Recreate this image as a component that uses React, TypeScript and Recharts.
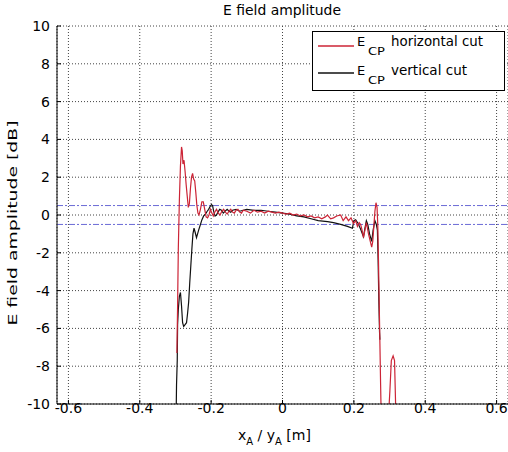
import { LineChart, Line, XAxis, YAxis, CartesianGrid, ReferenceLine } from "recharts";

// horizontal cut (red)
const hCutX = [
  -0.296, -0.294, -0.292, -0.289, -0.286, -0.283, -0.281, -0.279, -0.276, -0.273,
  -0.27, -0.267, -0.264, -0.261, -0.258, -0.255, -0.252, -0.249, -0.246, -0.243,
  -0.24, -0.237, -0.234, -0.23, -0.226, -0.222, -0.218, -0.214, -0.21, -0.206,
  -0.202, -0.198, -0.194, -0.19, -0.185, -0.18, -0.175, -0.17, -0.165, -0.16,
  -0.155, -0.15, -0.145, -0.14, -0.135, -0.13, -0.125, -0.12, -0.115, -0.11,
  -0.1, -0.09, -0.08, -0.07, -0.06, -0.05, -0.04, -0.03, -0.02, -0.01,
  0, 0.01, 0.02, 0.03, 0.04, 0.05, 0.06, 0.07, 0.08, 0.09,
  0.1, 0.11, 0.12, 0.126, 0.135, 0.143, 0.152, 0.163, 0.17, 0.178,
  0.185, 0.192, 0.199, 0.205, 0.21, 0.215, 0.219, 0.223, 0.227, 0.231,
  0.235, 0.238, 0.241, 0.246, 0.25, 0.253, 0.256, 0.259, 0.262, 0.265,
  0.267, 0.269, 0.27, 0.273, 0.275, 0.277, 0.285, 0.296, 0.301, 0.305,
  0.31, 0.314, 0.317, 0.319,
];
const hCutY = [
  -7.3, -4.8, -1.8, 0.8, 2.6, 3.6, 3.4, 2.7, 2.9, 2.3,
  1.6, 1.0, 0.4, 0.6, 1.4, 2.0, 2.2, 1.9, 1.8, 1.2,
  0.5, 0.1, 0.0, 0.3, 0.7, 0.7, 0.3, -0.1, -0.15, 0.0,
  0.3, 0.1, -0.05, 0.15, 0.3, 0.1, 0.0, 0.2, 0.3, 0.15,
  0.05, 0.2, 0.3, 0.15, 0.1, 0.25, 0.3, 0.15, 0.1, 0.25,
  0.2, 0.1, 0.25, 0.15, 0.2, 0.1, 0.2, 0.15, 0.1, 0.15,
  0.1, 0.05, 0.1, 0.0, 0.05, -0.05, 0.0, -0.1, -0.05, -0.15,
  -0.1, -0.2, -0.1, 0.0, -0.2, -0.15, -0.05, 0.0, -0.3, -0.1,
  -0.3, -0.15, -0.45, -0.3, -0.6, -0.4, -0.5, -0.8, -1.2, -0.8,
  -0.4, -0.7, -1.0, -1.4, -1.7, -1.4, -0.6, 0.2, 0.65, 0.4,
  -0.5, -2.4, -3.5, -6.8, -9.0, -11, -14, -11, -9.3, -7.7,
  -7.45, -7.7, -10, -11,
];

// vertical cut (black)
const vCutX = [
  -0.298, -0.297, -0.295, -0.294, -0.292, -0.289, -0.286, -0.283, -0.28, -0.277,
  -0.273, -0.269, -0.266, -0.263, -0.26, -0.257, -0.254, -0.251, -0.248, -0.245,
  -0.241, -0.238, -0.235, -0.23, -0.226, -0.221, -0.216, -0.211, -0.207, -0.203,
  -0.199, -0.196, -0.193, -0.189, -0.185, -0.181, -0.176, -0.171, -0.166, -0.161,
  -0.155, -0.15, -0.145, -0.14, -0.13, -0.12, -0.11, -0.1, -0.08, -0.06,
  -0.04, -0.02, 0, 0.02, 0.04, 0.06, 0.08, 0.1, 0.126, 0.143,
  0.163, 0.182, 0.196, 0.2, 0.205, 0.212, 0.219, 0.223, 0.227, 0.231,
  0.235, 0.239, 0.244, 0.25, 0.254, 0.259, 0.263, 0.266, 0.268, 0.27,
  0.272, 0.273,
];
const vCutY = [
  -10.5, -9.0, -7.7, -5.8, -5.0, -4.3, -4.1, -4.8, -5.7, -5.9,
  -5.8, -5.7, -5.2, -4.6, -3.6, -2.7, -1.8, -1.0, -0.7, -0.9,
  -1.2, -1.0, -0.8, -0.5, -0.26, -0.05, 0.05, 0.2, 0.3, 0.45,
  0.55, 0.5, 0.2, -0.05, 0.0, 0.15, 0.3, 0.25, 0.1, 0.2,
  0.3, 0.2, 0.15, 0.25, 0.3, 0.2, 0.25, 0.3, 0.25, 0.25,
  0.2, 0.15, 0.1, 0.05, -0.05, -0.1, -0.2, -0.3, -0.35, -0.4,
  -0.5, -0.6, -0.7, -0.3, -0.25, -0.45, -0.75, -0.95, -1.15, -0.7,
  -0.3, -0.5, -1.0, -1.4, -0.8, -0.3, -0.5, -0.8, -2.4, -4.5,
  -6.2, -6.6,
];

const xTicks = [-0.6, -0.4, -0.2, 0, 0.2, 0.4, 0.6];
const yTicks = [-10, -8, -6, -4, -2, 0, 2, 4, 6, 8, 10];
const limitLines = [0.5, -0.5];

const hData = hCutX.map((x, i) => ({ x, y: hCutY[i] }));
const vData = vCutX.map((x, i) => ({ x, y: vCutY[i] }));

const font = "'DejaVu Sans', sans-serif";
const RED = "#cc2436";

const XTick = ({ x, y, payload }: any) => (
  <g>
    <line x1={x} y1={y} x2={x} y2={y - 4} stroke="#000" />
    <text x={x} y={y + 9} textAnchor="middle" fontSize={14} fontFamily={font} fill="#000">
      {String(payload.value)}
    </text>
  </g>
);

const YTick = ({ x, y, payload }: any) => (
  <g>
    <line x1={x + 7} y1={y} x2={x + 11} y2={y} stroke="#000" />
    <text x={x} y={y + 5} textAnchor="end" fontSize={14} fontFamily={font} fill="#000">
      {String(payload.value)}
    </text>
  </g>
);

export default function App() {
  return (
    <div style={{ position: "absolute", left: 0, top: 0, width: 508, height: 452, background: "#fff" }}>
      <LineChart width={508} height={452} margin={{ top: 26, right: 0, bottom: 0, left: 0 }}>
        <CartesianGrid stroke="#444" strokeDasharray="1 2" />
        <XAxis
          type="number"
          dataKey="x"
          domain={[-0.632, 0.632]}
          ticks={xTicks}
          allowDataOverflow
          height={48}
          tickSize={0}
          tickMargin={0}
          tick={<XTick />}
          tickLine={false}
          axisLine={{ stroke: "#000" }}
        />
        <YAxis
          type="number"
          dataKey="y"
          domain={[-10, 10]}
          ticks={yTicks}
          allowDataOverflow
          width={57}
          tickSize={0}
          tickMargin={7}
          tick={<YTick />}
          tickLine={false}
          axisLine={{ stroke: "#000" }}
        />
        {limitLines.map((v) => (
          <ReferenceLine key={v} y={v} stroke="#6b6bd6" strokeDasharray="6 2 2 2" />
        ))}
        <Line data={vData} dataKey="y" type="linear" stroke="#111" strokeWidth={1.2} dot={false} isAnimationActive={false} />
        <Line data={hData} dataKey="y" type="linear" stroke={RED} strokeWidth={1.2} dot={false} isAnimationActive={false} />
      </LineChart>
      <svg
        width={508}
        height={452}
        style={{ position: "absolute", left: 0, top: 0, pointerEvents: "none" }}
        fontFamily={font}
        fill="#000"
      >
        <text x={282} y={15} textAnchor="middle" fontSize={14} textLength={118} lengthAdjust="spacingAndGlyphs">
          E field amplitude
        </text>
        <text x={238} y={440} fontSize={14}>
          x<tspan fontSize={10} dy={5}>A</tspan>
          <tspan dy={-5}> / y</tspan>
          <tspan fontSize={10} dy={5}>A</tspan>
          <tspan dy={-5}> [m]</tspan>
        </text>
        <text
          transform="translate(17,223) rotate(-90)"
          textAnchor="middle"
          fontSize={13}
          textLength={205}
          lengthAdjust="spacingAndGlyphs"
        >
          E field  amplitude [dB]
        </text>
        <rect x={312.5} y={31.5} width={192} height={59} fill="#fff" stroke="#000" />
        <line x1={318} y1={46} x2={354} y2={46} stroke={RED} strokeWidth={1.5} />
        <text x={357} y={46} fontSize={13}>E</text>
        <text x={368} y={55} fontSize={11} textLength={17} lengthAdjust="spacingAndGlyphs">CP</text>
        <text x={391} y={46} fontSize={13.5} textLength={92} lengthAdjust="spacingAndGlyphs">horizontal cut</text>
        <line x1={318} y1={73} x2={354} y2={73} stroke="#111" strokeWidth={1.5} />
        <text x={357} y={75} fontSize={13}>E</text>
        <text x={368} y={84} fontSize={11} textLength={17} lengthAdjust="spacingAndGlyphs">CP</text>
        <text x={391} y={75} fontSize={13.5} textLength={76} lengthAdjust="spacingAndGlyphs">vertical cut</text>
      </svg>
    </div>
  );
}
